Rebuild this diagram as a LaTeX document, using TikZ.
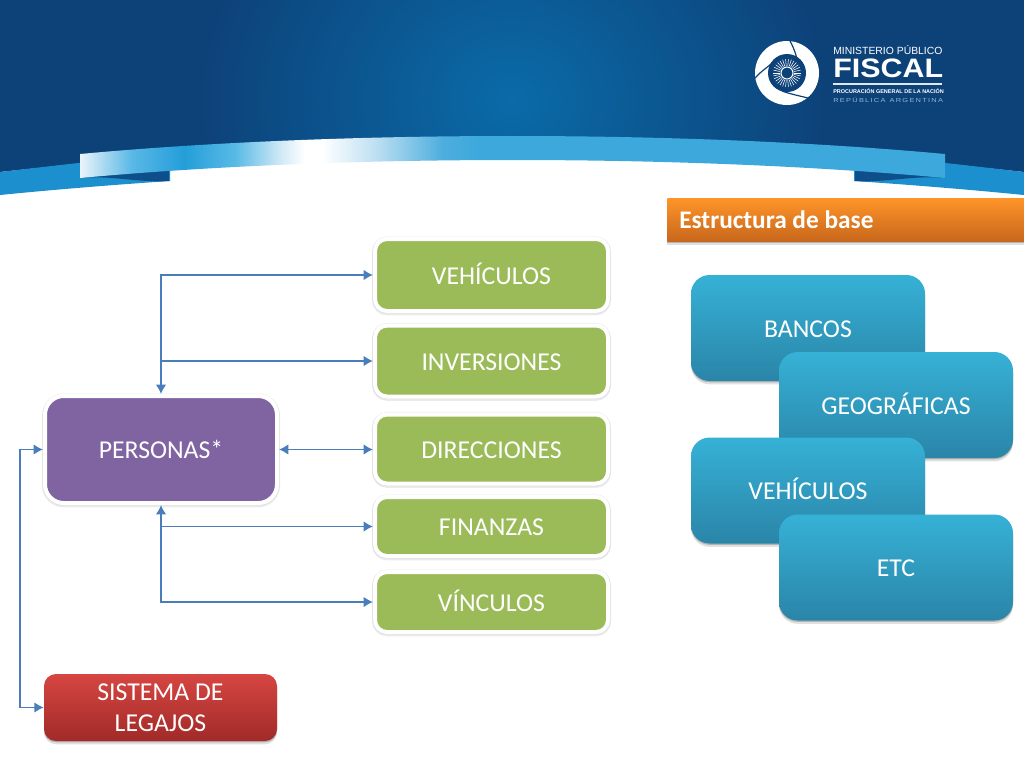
\documentclass[tikz,border=0pt]{standalone}
\usepackage{fontspec}
\setmainfont{Carlito}
\newfontfamily\logofont{Liberation Sans}
\usetikzlibrary{arrows.meta,shadows}
\definecolor{headdark}{HTML}{0D4279}
\definecolor{headmid}{HTML}{0A6BA8}
\definecolor{bandblue}{HTML}{1C8FCE}
\definecolor{folddark}{HTML}{0E4E8A}
\definecolor{linkblue}{HTML}{4A7EBB}
\definecolor{greenbox}{HTML}{9BBB59}
\definecolor{purplebox}{HTML}{8064A2}
\definecolor{logopale}{HTML}{8FB8D8}
\pgfdeclarehorizontalshading{ribbonshade}{100bp}{
rgb(0bp)=(0.92,0.96,0.98);
rgb(25bp)=(0.92,0.96,0.98);
rgb(28bp)=(0.35,0.72,0.90);
rgb(31bp)=(0.14,0.62,0.85);
rgb(34bp)=(0.35,0.73,0.90);
rgb(36.5bp)=(0.80,0.91,0.96);
rgb(38bp)=(1,1,1);
rgb(39bp)=(1,1,1);
rgb(42bp)=(0.75,0.88,0.95);
rgb(46bp)=(0.30,0.68,0.87);
rgb(48bp)=(0.24,0.66,0.86);
rgb(100bp)=(0.24,0.66,0.86)}
\begin{document}
\begin{tikzpicture}[x=0.75pt,y=-0.75pt,
softshadow/.style={drop shadow={shadow xshift=0pt,shadow yshift=-1pt,fill=black,opacity=.2},drop shadow={shadow xshift=0pt,shadow yshift=-2.5pt,fill=black,opacity=.12}},
halo/.style={preaction={draw=black,opacity=.08,line width=4.5pt,transform canvas={yshift=-1pt}},preaction={draw=black,opacity=.05,line width=4pt}},
whitebox/.style={draw=white,line width=3pt,rounded corners=9pt,text=white,font=\fontsize{19.3}{23}\selectfont,text height=13.6pt,text depth=0pt,minimum width=174.75pt,halo},
greenitem/.style={whitebox,fill=greenbox},
blueitem/.style={rounded corners=14pt,text=white,font=\fontsize{19.3}{23}\selectfont,text height=13.6pt,text depth=0pt,minimum width=175.5pt,minimum height=79.5pt,top color={rgb,255:red,54;green,177;blue,214},bottom color={rgb,255:red,42;green,133;blue,168},softshadow},
link/.style={draw=linkblue,line width=1.4pt,>={Latex[length=7pt,width=8pt]}},
logotext/.style={text=white,inner sep=0pt,anchor=west}]
\useasboundingbox (0,0) rectangle (1024,768);
\fill[white] (0,0) rectangle (1024,768);

\fill[headdark] (0,0) -- (1024,0) -- (1024,172) .. controls (683,135) and (341,135) .. (0,172) -- cycle;
\begin{scope}
\clip (0,0) -- (1024,0) -- (1024,172) .. controls (683,135) and (341,135) .. (0,172) -- cycle;
\shade[inner color=headmid,outer color=headdark] (200,-170) rectangle (824,370);
\end{scope}
\fill[bandblue] (0,172) .. controls (60,165) and (120,158) .. (170,154) -- (170,181) .. controls (110,185) and (50,190) .. (0,195) -- cycle;
\fill[bandblue] (1024,172) .. controls (964,165) and (904,158) .. (854,154) -- (854,181) .. controls (914,185) and (974,190) .. (1024,195) -- cycle;
\fill[folddark] (80,178) -- (169,165) -- (169,181) .. controls (140,183) and (110,175) .. (80,178) -- cycle;
\fill[folddark] (945,178) -- (855,165) -- (855,181) .. controls (884,183) and (914,175) .. (945,178) -- cycle;
\shade[shading=ribbonshade] (80,154) .. controls (340,130) and (685,130) .. (945,154) -- (945,178) .. controls (685,154) and (340,154) .. (80,178) -- cycle;

\fill[white] (787,73) circle (32);
\fill[headdark] (787,73) circle (19);
\draw[headdark,line width=0.9pt] (790,41) .. controls (795,50) and (797,58) .. (799,68);
\draw[headdark,line width=0.9pt] (755,78) .. controls (760,72) and (767,68) .. (773,62);
\draw[headdark,line width=0.9pt] (782,91) .. controls (790,94) and (800,96) .. (808,98);
\foreach \ang in {0,12,...,348}
  \draw[white,line width=0.4pt] (787,73) ++(\ang:7) -- ++(\ang:7);
\draw[white,line width=0.8pt] (787,73) circle (6);

\node[logotext,font=\logofont\fontsize{7.8}{9}\selectfont] (logotop) at (833,50) {MINISTERIO PÚBLICO};
\node[logotext,font=\logofont\bfseries\fontsize{20}{22}\selectfont,xscale=1.14] (logomain) at (833,68) {FISCAL};
\coordinate (rulestart) at (833,84);
\coordinate (ruleend) at (942,84);
\draw[white!70!logopale,line width=1.1pt] (rulestart) -- (ruleend);
\node[logotext,font=\logofont\bfseries\fontsize{4.1}{5}\selectfont] (logosub) at (833,91) {PROCURACIÓN GENERAL DE LA NACIÓN};
\node[logotext,text=logopale,font=\logofont\fontsize{4.4}{5}\selectfont,xscale=1.27] (logocountry) at (833,100) {R\,E\,P\,Ú\,B\,L\,I\,C\,A\;\;A\,R\,G\,E\,N\,T\,I\,N\,A};

\node[anchor=north west,minimum width=267.75pt,minimum height=32.25pt,inner sep=0pt,top color={rgb,255:red,255;green,148;blue,41},bottom color={rgb,255:red,200;green,103;blue,28},softshadow] (basehead) at (667,198) {};
\node[anchor=west,inner sep=0pt,text=white,font=\bfseries\fontsize{19}{22}\selectfont] (basetitle) at (679,220) {Estructura de base};

\node[blueitem] (bancos) at (808,328) {BANCOS};
\node[blueitem] (geograficas) at (896,405) {GEOGRÁFICAS};
\node[blueitem] (vehbase) at (808,490.5) {VEHÍCULOS};
\node[blueitem] (etc) at (896,567.5) {ETC};

\node[greenitem,minimum height=54pt] (vehiculos) at (491.5,275) {VEHÍCULOS};
\node[greenitem,minimum height=53.25pt] (inversiones) at (491.5,361) {INVERSIONES};
\node[greenitem,minimum height=51.75pt] (direcciones) at (491.5,449) {DIRECCIONES};
\node[greenitem,minimum height=44.25pt] (finanzas) at (491.5,526.5) {FINANZAS};
\node[greenitem,minimum height=45pt] (vinculos) at (491.5,602) {VÍNCULOS};
\node[whitebox,fill=purplebox,minimum width=174pt,minimum height=80.25pt,rounded corners=14pt] (personas) at (161,449.5) {PERSONAS*};
\node[rounded corners=9pt,align=center,inner sep=0pt,text=white,font=\fontsize{19.3}{23}\selectfont,minimum width=174.75pt,minimum height=50.25pt,top color={rgb,255:red,214;green,70;blue,66},bottom color={rgb,255:red,161;green,42;blue,40},softshadow] (sistema) at (160.5,707.5) {\raisebox{-1.5pt}{SISTEMA DE}\\\raisebox{-1.5pt}{LEGAJOS}};
\coordinate (loopside) at (20,580);

\draw[link,<->] (vehiculos.west) -| (personas.north);
\draw[link,->] (personas.north |- inversiones.west) -- (inversiones.west);
\draw[link,<->] (personas.east) -- (direcciones.west |- personas.east);
\draw[link,->] (personas.south |- finanzas.west) -- (finanzas.west);
\draw[link,<->] (vinculos.west) -| (personas.south);
\draw[link,<->] (sistema.west) -| (loopside) |- (personas.west);
\end{tikzpicture}
\end{document}
